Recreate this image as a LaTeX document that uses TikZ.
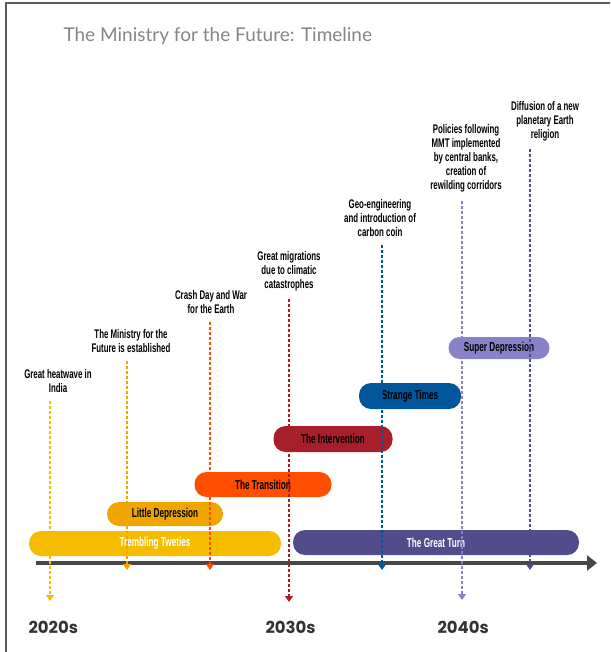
\documentclass[tikz,border=0pt]{standalone}
\usepackage{fontspec}
\setmainfont{Liberation Sans}
\newfontfamily\condfont[FakeStretch=0.63]{Liberation Sans}
\newfontfamily\yearfont{Poppins}
\newfontfamily\titlefont{Lato}
\usetikzlibrary{arrows.meta}
\definecolor{cAxis}{HTML}{333333}
\definecolor{cTitle}{HTML}{858585}
\definecolor{cFrame}{HTML}{5A5A5A}
\definecolor{cYellow}{HTML}{F5BC00}
\definecolor{cGold}{HTML}{F0A500}
\definecolor{cOrange}{HTML}{FF4E00}
\definecolor{cRed}{HTML}{A81F2B}
\definecolor{cBlue}{HTML}{00559B}
\definecolor{cLav}{HTML}{8A82C8}
\definecolor{cPurple}{HTML}{524C8C}
\tikzset{
  bar/.style={rounded corners=12pt, minimum height=25pt, inner sep=0pt,
    font=\condfont\bfseries\fontsize{13}{14}\selectfont},
  event/.style={align=center, inner sep=0pt,
    font=\condfont\bfseries\fontsize{12.5}{14}\selectfont},
  evline/.style={->, line width=1.5pt, dash pattern=on 3pt off 2pt},
  year/.style={anchor=base west, text=cAxis,
    font=\yearfont\bfseries\fontsize{16.5}{20}\selectfont}
}
\begin{document}
\begin{tikzpicture}[x=1pt, y=-1pt, line join=round, >={Triangle[width=8pt,length=6pt]}]
  \useasboundingbox (0,0) rectangle (610,652);
  % frame
  \draw[cFrame, line width=1.5pt] (610,3) -- (6,3) -- (6,652);
  \node[anchor=base west, text=cTitle, font=\titlefont\fontsize{19}{24}\selectfont] (title) at (60,42) {The Ministry for the Future: Timeline};
  % axis
  \coordinate (axstart) at (36,563);
  \coordinate (axend) at (597,563);
  \draw[cAxis!90, line width=4pt, -{Triangle[width=15pt,length=10pt]}] (axstart) -- (axend);
  % periods
  \node[bar, fill=cYellow, text=white, minimum width=252pt] (tremb) at (155,543.5) {Trembling Tweties};
  \node[bar, fill=cGold, minimum width=116pt, minimum height=24pt] (little) at (165,514) {Little Depression};
  \node[bar, fill=cOrange, minimum width=137pt] (trans) at (263,484.5) {The Transition};
  \node[bar, fill=cRed, minimum width=119pt, minimum height=26pt] (interv) at (333,439) {The Intervention};
  \node[bar, fill=cBlue, minimum width=102pt, minimum height=26pt] (strange) at (410,396) {Strange Times};
  \node[bar, fill=cLav, minimum width=101pt, minimum height=22pt, rounded corners=11pt] (super) at (499,348) {Super Depression};
  \node[bar, fill=cPurple, text=white, minimum width=286pt] (turn) at (436,542.5) {The Great Turn};
  % events
  \node[event] (heat) at (58,381) {Great heatwave in\\India};
  \node[event] (mini) at (131,341.5) {The Ministry for the\\Future is established};
  \node[event] (crash) at (211,302) {Crash Day and War\\for the Earth};
  \node[event] (migr) at (289,271) {Great migrations\\due to climatic\\catastrophes};
  \node[event] (geo) at (380,218) {Geo-engineering\\and introduction of\\carbon coin};
  \node[event] (mmt) at (466,158.5) {Policies following\\MMT implemented\\by central banks,\\creation of\\rewilding corridors};
  \node[event] (relig) at (545,121) {Diffusion of a new\\planetary Earth\\religion};
  \coordinate (heatend) at (50,601);
  \coordinate (miniend) at (127,570);
  \coordinate (crashend) at (210,570);
  \coordinate (migrend) at (289,602);
  \coordinate (geoend) at (382,570);
  \coordinate (mmtend) at (462,600);
  \coordinate (religend) at (530,570);
  \foreach \ev/\col in {heat/cYellow, mini/cGold, crash/cOrange, migr/cRed, geo/cBlue, mmt/cLav, relig/cPurple}
    \draw[evline, \col] ([yshift=-8pt]\ev.south -| \ev end) -- (\ev end);
  % decades
  \node[year] (y20) at (25,633) {2020s};
  \node[year] (y30) at (262,633) {2030s};
  \node[year] (y40) at (434,633) {2040s};
\end{tikzpicture}
\end{document}
